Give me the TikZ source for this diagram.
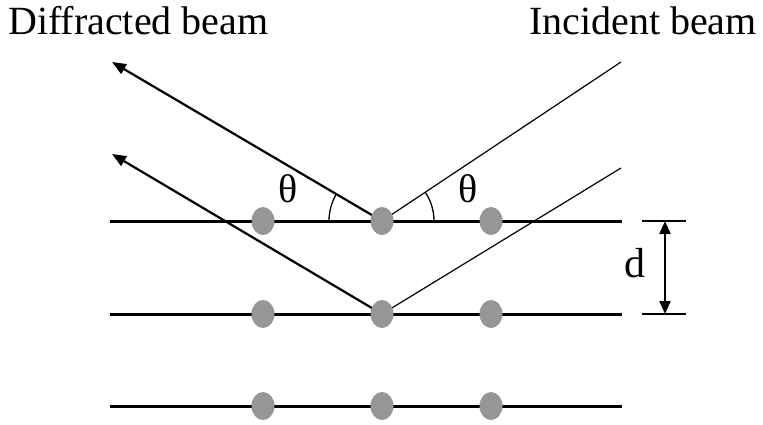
\documentclass[tikz,border=0pt]{standalone}
\usepackage{fontspec}
\setmainfont{Liberation Serif}
\usetikzlibrary{arrows.meta,shapes.geometric}
\definecolor{dotgray}{RGB}{150,150,150}
\tikzset{
  plane/.style={line width=3pt},
  atom/.style={ellipse,fill=dotgray,draw=none,minimum width=23pt,minimum height=28pt,inner sep=0pt},
  incbeam/.style={line width=1.2pt},
  diffbeam/.style={line width=2.2pt,-{Triangle[length=14pt,width=11pt]}},
  anglearc/.style={line width=1.3pt},
  tick/.style={line width=1.2pt},
  dimarrow/.style={line width=2.2pt,{Triangle[length=13pt,width=11pt]}-{Triangle[length=13pt,width=11pt]}},
  lbl/.style={font=\fontsize{40}{42}\selectfont,inner sep=0pt},
  sym/.style={font=\fontsize{40}{42}\selectfont,inner sep=0pt}
}
\begin{document}
\begin{tikzpicture}[x=1pt,y=-1pt]
\useasboundingbox (0,0) rectangle (763,424);
% planes
\foreach \i/\y in {1/221,2/314,3/406}{
  \coordinate (L\i) at (110,\y);
  \coordinate (R\i) at (622,\y);
  \draw[plane] (L\i) -- (R\i);
}
% atom positions
\foreach \i/\y in {1/221,2/314,3/406}{
  \coordinate (c\i1) at (263,\y);
  \coordinate (c\i2) at (382,\y);
  \coordinate (c\i3) at (491,\y);
}
% beams
\coordinate (inA) at (621,62);
\coordinate (inB) at (621,168);
\coordinate (outA) at (112,62);
\coordinate (outB) at (112,154);
\draw[incbeam] (inA) -- (c12);
\draw[incbeam] (inB) -- (c22);
\draw[diffbeam] (c12) -- (outA);
\draw[diffbeam] (c22) -- (outB);
% atoms
\foreach \i in {1,2,3}{
  \foreach \j in {1,2,3}{
    \node[atom] (a\i\j) at (c\i\j) {};
  }
}
% angle arcs
\draw[anglearc] (329,221) arc[start angle=180,end angle=210.5,radius=53];
\draw[anglearc] (434,221) arc[start angle=0,end angle=-33.6,radius=52];
\node[sym] (th1) at (288,189) {θ};
\node[sym] (th2) at (468,189) {θ};
% spacing d
\coordinate (t1a) at (642,221); \coordinate (t1b) at (686,221);
\coordinate (t2a) at (642,314); \coordinate (t2b) at (686,314);
\draw[tick] (t1a) -- (t1b);
\draw[tick] (t2a) -- (t2b);
\coordinate (d1) at (665,221); \coordinate (d2) at (665,314);
\draw[dimarrow] (d1) -- (d2);
\node[font=\fontsize{42}{44}\selectfont,inner sep=0pt] (dl) at (635,263) {d};
% titles
\node[lbl,anchor=base west] (diff) at (8,34) {Diffracted beam};
\node[lbl,anchor=base east] (inc) at (757,34) {Incident beam};
\end{tikzpicture}
\end{document}
